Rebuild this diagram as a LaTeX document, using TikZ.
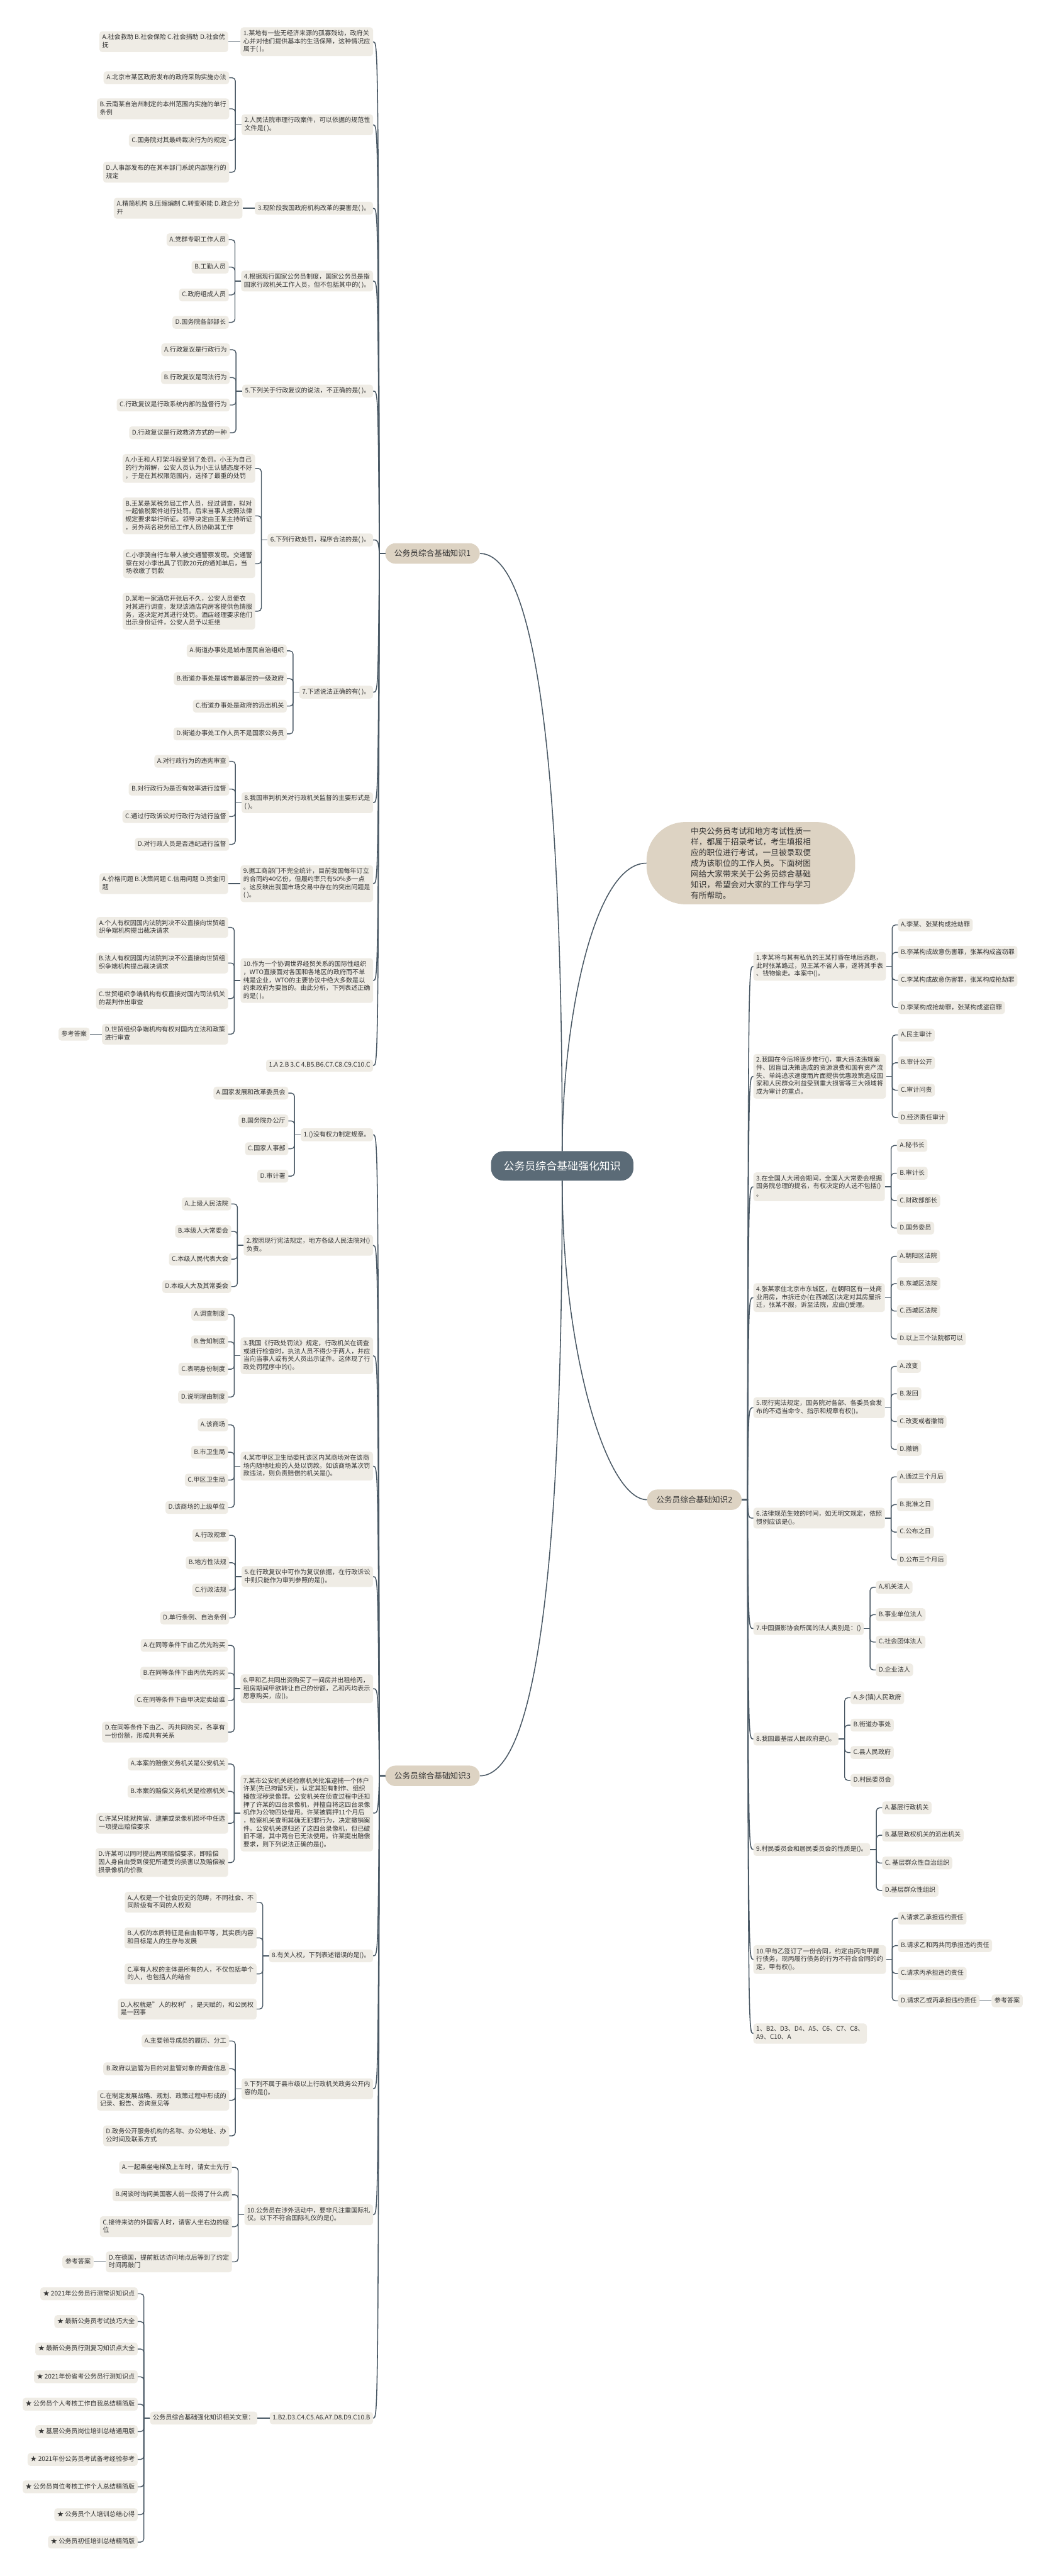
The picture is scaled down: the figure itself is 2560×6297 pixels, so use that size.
\documentclass[tikz,border=0pt]{standalone}
\usepackage{fontspec}
\setmainfont{Noto Sans CJK SC}
\usetikzlibrary{calc}
\definecolor{nodefill}{HTML}{EFECE5}
\definecolor{secfill}{HTML}{DDD3C3}
\definecolor{cenfill}{HTML}{5B6B77}
\definecolor{linec}{HTML}{4A5965}
\definecolor{txt}{HTML}{333333}
\newcommand\mysb{\rule[-4.2pt]{0pt}{15pt}}
\tikzset{
 qbox/.style={fill=nodefill, rounded corners=7pt, inner xsep=7pt, inner ysep=7pt, align=left, text=txt, font=\fontsize{15.5pt}{19.5pt}\selectfont, execute at begin node=\mysb, execute at end node=\mysb},
 secbox/.style={fill=secfill, rounded corners=25pt, minimum width=231pt, minimum height=50pt, text=txt, font=\fontsize{19.5pt}{24pt}\selectfont, inner sep=0pt},
 cenbox/.style={fill=cenfill, rounded corners=30pt, minimum width=348pt, minimum height=72pt, text=white, font=\fontsize{26pt}{30pt}\selectfont, inner sep=0pt},
 introbox/.style={fill=secfill, rounded corners=95pt, minimum width=510pt, minimum height=201pt, text=txt, align=left, font=\fontsize{19.6pt}{26pt}\selectfont, inner sep=0pt},
 conn/.style={draw=linec, line width=2.2pt},
 trunk/.style={draw=linec, line width=2.4pt},
}
% left side question: section, name, y, text
\newcommand\myQL[4]{%
 \node[qbox,anchor=east] (#2) at (912,#3) {#4};
 \draw[trunk] (#1.west) -- ++(-14,0) .. controls ($(#2.east)+(12,0)$) .. (#2.east);}
% left option: parent, name, y, text
\newcommand\myOL[4]{%
 \node[qbox,anchor=east] (#2) at ($(#1.west |- 0,#3)+(-30,0)$) {#4};
 \draw[conn] (#1.west) -- ++(-15,0);
 \draw[conn,rounded corners=8pt] ($(#1.west)+(-15,0)$) |- (#2.east);}
\newcommand\myOLs[4]{%
 \node[qbox,anchor=east] (#2) at ($(#1.west |- 0,#3)+(-30,0)$) {#4};
 \draw[conn] (#1.west) -- (#2.east);}
% right side
\newcommand\myQR[4]{%
 \node[qbox,anchor=west] (#2) at (1841,#3) {#4};
 \draw[trunk] (#1.east) -- ++(14,0) .. controls ($(#2.west)+(-12,0)$) .. (#2.west);}
\newcommand\myOR[4]{%
 \node[qbox,anchor=west] (#2) at ($(#1.east |- 0,#3)+(29,0)$) {#4};
 \draw[conn] (#1.east) -- ++(15,0);
 \draw[conn,rounded corners=8pt] ($(#1.east)+(15,0)$) |- (#2.west);}
\newcommand\myORs[4]{%
 \node[qbox,anchor=west] (#2) at ($(#1.east |- 0,#3)+(29,0)$) {#4};
 \draw[conn] (#1.east) -- (#2.west);}

\begin{document}
\begin{tikzpicture}[x=1pt,y=-1pt]
\fill[white] (0,0) rectangle (2560,6297);
\useasboundingbox (0,0) rectangle (2560,6297);

\node[cenbox] (c) at (1374,2850) {公务员综合基础强化知识};
\node[secbox] (s1) at (1057,1353) {公务员综合基础知识1};
\node[secbox] (s2) at (1697,3666) {公务员综合基础知识2};
\node[secbox] (s3) at (1057,4341) {公务员综合基础知识3};
\node[introbox] (intro) at (1835,2110) {中央公务员考试和地方考试性质一\\样，都属于招录考试，考生填报相\\应的职位进行考试，一旦被录取便\\成为该职位的工作人员。下面树图\\网给大家带来关于公务员综合基础\\知识，希望会对大家的工作与学习\\有所帮助。};

\draw[trunk] (c.north) .. controls ($(c.north)+(0,-1015)$) and ($(s1.east)+(127,0)$) .. (s1.east);
\draw[trunk] (c.north) .. controls ($(c.north)+(0,-315)$) and ($(intro.west)+(-130,0)$) .. (intro.west);
\draw[trunk] (c.south) .. controls ($(c.south)+(0,1015)$) and ($(s3.east)+(127,0)$) .. (s3.east);
\draw[trunk] (c.south) .. controls ($(c.south)+(0,415)$) and ($(s2.west)+(-100,0)$) .. (s2.west);

% ===== Section 1 =====
\myQL{s1}{q11}{102}{1.某地有一些无经济来源的孤寡残幼，政府关\\心并对他们提供基本的生活保障，这种情况应\\属于( )。}
\myOLs{q11}{o111}{102}{A.社会救助 B.社会保险 C.社会捐助 D.社会优\\抚}

\myQL{s1}{q12}{305}{2.人民法院审理行政案件，可以依据的规范性\\文件是( )。}
\myOL{q12}{o121}{190}{A.北京市某区政府发布的政府采购实施办法}
\myOL{q12}{o122}{266}{B.云南某自治州制定的本州范围内实施的单行\\条例}
\myOL{q12}{o123}{343}{C.国务院对其最终裁决行为的规定}
\myOL{q12}{o124}{421}{D.人事部发布的在其本部门系统内部施行的\\规定}

\myQL{s1}{q13}{509}{3.现阶段我国政府机构改革的要害是( )。}
\myOLs{q13}{o131}{509}{A.精简机构 B.压缩编制 C.转变职能 D.政企分\\开}

\myQL{s1}{q14}{687}{4.根据现行国家公务员制度，国家公务员是指\\国家行政机关工作人员，但不包括其中的( )。}
\myOL{q14}{o141}{586}{A.党群专职工作人员}
\myOL{q14}{o142}{653}{B.工勤人员}
\myOL{q14}{o143}{721}{C.政府组成人员}
\myOL{q14}{o144}{788}{D.国务院各部部长}

\myQL{s1}{q15}{956}{5.下列关于行政复议的说法，不正确的是( )。}
\myOL{q15}{o151}{855}{A.行政复议是行政行为}
\myOL{q15}{o152}{923}{B.行政复议是司法行为}
\myOL{q15}{o153}{990}{C.行政复议是行政系统内部的监督行为}
\myOL{q15}{o154}{1058}{D.行政复议是行政救济方式的一种}

\myQL{s1}{q16}{1320}{6.下列行政处罚，程序合法的是( )。}
\myOL{q16}{o161}{1145}{A.小王和人打架斗殴受到了处罚。小王为自己\\的行为辩解，公安人员认为小王认错态度不好\\，于是在其权限范围内，选择了最重的处罚}
\myOL{q16}{o162}{1261}{B.王某是某税务局工作人员，经过调查，拟对\\一起偷税案件进行处罚。后来当事人按照法律\\规定要求举行听证。领导决定由王某主持听证\\，另外两名税务局工作人员协助其工作}
\myOL{q16}{o163}{1378}{C.小李骑自行车带人被交通警察发现。交通警\\察在对小李出具了罚款20元的通知单后，当\\场收缴了罚款}
\myOL{q16}{o164}{1494}{D.某地一家酒店开张后不久，公安人员便衣\\对其进行调查，发现该酒店向房客提供色情服\\务，遂决定对其进行处罚。酒店经理要求他们\\出示身份证件，公安人员予以拒绝}

\myQL{s1}{q17}{1692}{7.下述说法正确的有( )。}
\myOL{q17}{o171}{1591}{A.街道办事处是城市居民自治组织}
\myOL{q17}{o172}{1659}{B.街道办事处是城市最基层的一级政府}
\myOL{q17}{o173}{1726}{C.街道办事处是政府的派出机关}
\myOL{q17}{o174}{1794}{D.街道办事处工作人员不是国家公务员}

\myQL{s1}{q18}{1962}{8.我国审判机关对行政机关监督的主要形式是\\( )。}
\myOL{q18}{o181}{1861}{A.对行政行为的违宪审查}
\myOL{q18}{o182}{1929}{B.对行政行为是否有效率进行监督}
\myOL{q18}{o183}{1996}{C.通过行政诉讼对行政行为进行监督}
\myOL{q18}{o184}{2064}{D.对行政人员是否违纪进行监督}

\myQL{s1}{q19}{2160}{9.据工商部门不完全统计，目前我国每年订立\\的合同约40亿份，但履约率只有50\%多一点\\。这反映出我国市场交易中存在的突出问题是\\( )。}
\myOLs{q19}{o191}{2160}{A.价格问题 B.决策问题 C.信用问题 D.资金问\\题}

\myQL{s1}{q110}{2397}{10.作为一个协调世界经贸关系的国际性组织\\，WTO直接面对各国和各地区的政府而不单\\纯是企业，WTO的主要协议中绝大多数是以\\约束政府为要旨的。由此分析，下列表述正确\\的是( )。}
\myOL{q110}{o1101}{2267}{A.个人有权因国内法院判决不公直接向世贸组\\织争端机构提出裁决请求}
\myOL{q110}{o1102}{2354}{B.法人有权因国内法院判决不公直接向世贸组\\织争端机构提出裁决请求}
\myOL{q110}{o1103}{2441}{C.世贸组织争端机构有权直接对国内司法机关\\的裁判作出审查}
\myOL{q110}{o1104}{2528}{D.世贸组织争端机构有权对国内立法和政策\\进行审查}
\myOLs{o1104}{ck1}{2528}{参考答案}

\myQL{s1}{a1}{2605}{1.A 2.B 3.C 4.B5.B6.C7.C8.C9.C10.C}

% ===== Section 3 =====
\myQL{s3}{q31}{2774}{1.()没有权力制定规章。}
\myOL{q31}{o311}{2672}{A.国家发展和改革委员会}
\myOL{q31}{o312}{2740}{B.国务院办公厅}
\myOL{q31}{o313}{2808}{C.国家人事部}
\myOL{q31}{o314}{2875}{D.审计署}

\myQL{s3}{q32}{3044}{2.按照现行宪法规定，地方各级人民法院对()\\负责。}
\myOL{q32}{o321}{2943}{A.上级人民法院}
\myOL{q32}{o322}{3010}{B.本级人大常委会}
\myOL{q32}{o323}{3078}{C.本级人民代表大会}
\myOL{q32}{o324}{3145}{D.本级人大及其常委会}

\myQL{s3}{q33}{3314}{3.我国《行政处罚法》规定，行政机关在调查\\或进行检查时，执法人员不得少于两人，并应\\当向当事人或有关人员出示证件。这体现了行\\政处罚程序中的()。}
\myOL{q33}{o331}{3213}{A.调查制度}
\myOL{q33}{o332}{3280}{B.告知制度}
\myOL{q33}{o333}{3347}{C.表明身份制度}
\myOL{q33}{o334}{3415}{D.说明理由制度}

\myQL{s3}{q34}{3584}{4.某市甲区卫生局委托该区内某商场对在该商\\场内随地吐痰的人处以罚款。如该商场某次罚\\款违法，则负责赔偿的机关是()。}
\myOL{q34}{o341}{3483}{A.该商场}
\myOL{q34}{o342}{3550}{B.市卫生局}
\myOL{q34}{o343}{3618}{C.甲区卫生局}
\myOL{q34}{o344}{3685}{D.该商场的上级单位}

\myQL{s3}{q35}{3854}{5.在行政复议中可作为复议依据，在行政诉讼\\中则只能作为审判参照的是()。}
\myOL{q35}{o351}{3753}{A.行政规章}
\myOL{q35}{o352}{3820}{B.地方性法规}
\myOL{q35}{o353}{3887}{C.行政法规}
\myOL{q35}{o354}{3955}{D.单行条例、自治条例}

\myQL{s3}{q36}{4128}{6.甲和乙共同出资购买了一间房并出租给丙，\\租房期间甲欲转让自己的份额，乙和丙均表示\\愿意购买，应()。}
\myOL{q36}{o361}{4022}{A.在同等条件下由乙优先购买}
\myOL{q36}{o362}{4090}{B.在同等条件下由丙优先购买}
\myOL{q36}{o363}{4157}{C.在同等条件下由甲决定卖给谁}
\myOL{q36}{o364}{4234}{D.在同等条件下由乙、丙共同购买，各享有\\一份份额，形成共有关系}

\myQL{s3}{q37}{4432}{7.某市公安机关经检察机关批准逮捕一个体户\\许某(先已拘留5天)，认定其犯有制作、组织\\播放淫秽录像罪。公安机关在侦查过程中还扣\\押了许某的四台录像机，并擅自将这四台录像\\机作为公物四处借用。许某被羁押11个月后\\，检察机关查明其确无犯罪行为，决定撤销案\\件。公安机关遂归还了这四台录像机，但已破\\旧不堪，其中两台已无法使用。许某提出赔偿\\要求，则下列说法正确的是()。}
\myOL{q37}{o371}{4312}{A.本案的赔偿义务机关是公安机关}
\myOL{q37}{o372}{4379}{B.本案的赔偿义务机关是检察机关}
\myOL{q37}{o373}{4457}{C.许某只能就拘留、逮捕或录像机损坏中任选\\一项提出赔偿要求}
\myOL{q37}{o374}{4553}{D.许某可以同时提出两项赔偿要求，即赔偿\\因人身自由受到侵犯所遭受的损害以及赔偿被\\损录像机的价款}

\myQL{s3}{q38}{4781}{8.有关人权，下列表述错误的是()。}
\myOL{q38}{o381}{4650}{A.人权是一个社会历史的范畴，不同社会、不\\同阶级有不同的人权观}
\myOL{q38}{o382}{4737}{B.人权的本质特征是自由和平等，其实质内容\\和目标是人的生存与发展}
\myOL{q38}{o383}{4825}{C.享有人权的主体是所有的人，不仅包括单个\\的人，也包括人的结合}
\myOL{q38}{o384}{4911}{D.人权就是"人的权利"，是天赋的，和公民权\\是一回事}

\myQL{s3}{q39}{5106}{9.下列不属于县市级以上行政机关政务公开内\\容的是()。}
\myOL{q39}{o391}{4989}{A.主要领导成员的履历、分工}
\myOL{q39}{o392}{5057}{B.政府以监管为目的对监管对象的调查信息}
\myOL{q39}{o393}{5134}{C.在制定发展战略、规划、政策过程中形成的\\记录、报告、咨询意见等}
\myOL{q39}{o394}{5221}{D.政务公开服务机构的名称、办公地址、办\\公时间及联系方式}

\myQL{s3}{q310}{5414}{10.公务员在涉外活动中，要非凡注重国际礼\\仪。以下不符合国际礼仪的是()。}
\myOL{q310}{o3101}{5298}{A.一起乘坐电梯及上车时，请女士先行}
\myOL{q310}{o3102}{5365}{B.闲谈时询问美国客人前一段得了什么病}
\myOL{q310}{o3103}{5443}{C.接待来访的外国客人时，请客人坐右边的座\\位}
\myOL{q310}{o3104}{5529}{D.在德国，提前抵达访问地点后等到了约定\\时间再敲门}
\myOLs{o3104}{ck3}{5529}{参考答案}

\myQL{s3}{a3}{5911}{1.B2.D3.C4.C5.A6.A7.D8.D9.C10.B}
\myOLs{a3}{rel}{5911}{公务员综合基础强化知识相关文章：}
\myOL{rel}{st1}{5607}{★ 2021年公务员行测常识知识点}
\myOL{rel}{st2}{5675}{★ 最新公务员考试技巧大全}
\myOL{rel}{st3}{5742}{★ 最新公务员行测复习知识点大全}
\myOL{rel}{st4}{5810}{★ 2021年份省考公务员行测知识点}
\myOL{rel}{st5}{5877}{★ 公务员个人考核工作自我总结精简版}
\myOL{rel}{st6}{5944}{★ 基层公务员岗位培训总结通用版}
\myOL{rel}{st7}{6012}{★ 2021年份公务员考试备考经验参考}
\myOL{rel}{st8}{6079}{★ 公务员岗位考核工作个人总结精简版}
\myOL{rel}{st9}{6147}{★ 公务员个人培训总结心得}
\myOL{rel}{st10}{6214}{★ 公务员初任培训总结精简版}

% ===== Section 2 =====
\myQR{s2}{q21}{2362}{1.李某将与其有私仇的王某打昏在地后逃跑，\\此时张某路过，见王某不省人事，遂将其手表\\、钱物偷走。本案中()。}
\myOR{q21}{o211}{2261}{A.李某、张某构成抢劫罪}
\myOR{q21}{o212}{2328}{B.李某构成故意伤害罪，张某构成盗窃罪}
\myOR{q21}{o213}{2396}{C.李某构成故意伤害罪，张某构成抢劫罪}
\myOR{q21}{o214}{2463}{D.李某构成抢劫罪，张某构成盗窃罪}

\myQR{s2}{q22}{2631}{2.我国在今后将逐步推行()，重大违法违规案\\件、因盲目决策造成的资源浪费和国有资产流\\失、单纯追求速度而片面提供优惠政策造成国\\家和人民群众利益受到重大损害等三大领域将\\成为审计的重点。}
\myOR{q22}{o221}{2530}{A.民主审计}
\myOR{q22}{o222}{2598}{B.审计公开}
\myOR{q22}{o223}{2665}{C.审计问责}
\myOR{q22}{o224}{2732}{D.经济责任审计}

\myQR{s2}{q23}{2901}{3.在全国人大闭会期间，全国人大常委会根据\\国务院总理的提名，有权决定的人选不包括()\\。}
\myOR{q23}{o231}{2800}{A.秘书长}
\myOR{q23}{o232}{2868}{B.审计长}
\myOR{q23}{o233}{2935}{C.财政部部长}
\myOR{q23}{o234}{3002}{D.国务委员}

\myQR{s2}{q24}{3172}{4.张某家住北京市东城区，在朝阳区有一处商\\业用房，市拆迁办(在西城区)决定对其房屋拆\\迁，张某不服，诉至法院，应由()受理。}
\myOR{q24}{o241}{3071}{A.朝阳区法院}
\myOR{q24}{o242}{3138}{B.东城区法院}
\myOR{q24}{o243}{3205}{C.西城区法院}
\myOR{q24}{o244}{3273}{D.以上三个法院都可以}

\myQR{s2}{q25}{3441}{5.现行宪法规定，国务院对各部、各委员会发\\布的不适当命令、指示和规章有权()。}
\myOR{q25}{o251}{3340}{A.改变}
\myOR{q25}{o252}{3407}{B.发回}
\myOR{q25}{o253}{3475}{C.改变或者撤销}
\myOR{q25}{o254}{3543}{D.撤销}

\myQR{s2}{q26}{3711}{6.法律规范生效的时间，如无明文规定，依照\\惯例应该是()。}
\myOR{q26}{o261}{3610}{A.通过三个月后}
\myOR{q26}{o262}{3678}{B.批准之日}
\myOR{q26}{o263}{3745}{C.公布之日}
\myOR{q26}{o264}{3813}{D.公布三个月后}

\myQR{s2}{q27}{3981}{7.中国摄影协会所属的法人类别是：()}
\myOR{q27}{o271}{3880}{A.机关法人}
\myOR{q27}{o272}{3947}{B.事业单位法人}
\myOR{q27}{o273}{4014}{C.社会团体法人}
\myOR{q27}{o274}{4082}{D.企业法人}

\myQR{s2}{q28}{4251}{8.我国最基层人民政府是()。}
\myOR{q28}{o281}{4150}{A.乡(镇)人民政府}
\myOR{q28}{o282}{4217}{B.街道办事处}
\myOR{q28}{o283}{4284}{C.县人民政府}
\myOR{q28}{o284}{4352}{D.村民委员会}

\myQR{s2}{q29}{4521}{9.村民委员会和居民委员会的性质是()。}
\myOR{q29}{o291}{4419}{A.基层行政机关}
\myOR{q29}{o292}{4486}{B.基层政权机关的派出机关}
\myOR{q29}{o293}{4554}{C. 基层群众性自治组织}
\myOR{q29}{o294}{4621}{D.基层群众性组织}

\myQR{s2}{q210}{4790}{10.甲与乙签订了一份合同，约定由丙向甲履\\行债务，现丙履行债务的行为不符合合同的约\\定，甲有权()。}
\myOR{q210}{o2101}{4689}{A.请求乙承担违约责任}
\myOR{q210}{o2102}{4756}{B.请求乙和丙共同承担违约责任}
\myOR{q210}{o2103}{4824}{C.请求丙承担违约责任}
\myOR{q210}{o2104}{4891}{D.请求乙或丙承担违约责任}
\myORs{o2104}{ck2}{4891}{参考答案}

\myQR{s2}{a2}{4971}{1、B2、D3、D4、A5、C6、C7、C8、\\A9、C10、A}
\end{tikzpicture}
\end{document}
